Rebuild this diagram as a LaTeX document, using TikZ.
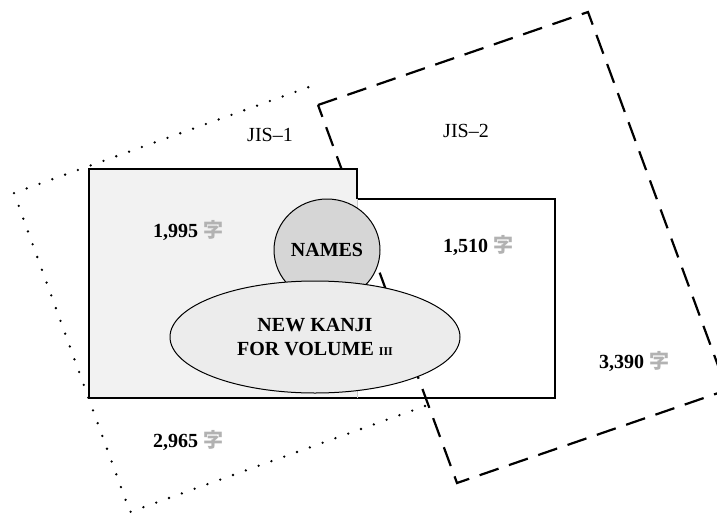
\documentclass[tikz,border=0pt]{standalone}
\usepackage{fontspec}
\setmainfont{Liberation Serif}
\newfontfamily\cjk{Noto Sans CJK JP}
\usetikzlibrary{shapes.geometric}
\newcommand{\zi}{{\cjk\color{gray!60}字}}

\begin{document}
\begin{tikzpicture}[x=0.5pt, y=-0.5pt,
    dotline/.style={line width=1.3pt, line cap=round, dash pattern=on 0pt off 6.8pt},
    dashline/.style={line width=1.1pt, dash pattern=on 10pt off 5.5pt},
    setlabel/.style={font=\normalsize},
    count/.style={font=\bfseries},
    blob/.style={draw, ellipse, line width=0.5pt, font=\bfseries, align=center}]
    \useasboundingbox (0,0) rectangle (717,514);

    % JIS-1 (dotted, tilted)
    \draw[dotline] (425,406) -- (130,512) -- (14,193) -- (309,87);

    % JIS-2 (dashed, tilted)
    \draw[dashline] (318,105) -- (588,12) -- (727,390) -- (457,483) -- cycle;

    % Second block (open)
    \draw[line width=1.1pt] (357,199) -- (555,199) -- (555,398) -- (357,398);

    % First block (shaded)
    \fill[gray!10] (89,169) rectangle (357,398);
    \draw[line width=1.1pt] (357,199) -- (357,169) -- (89,169) -- (89,398) -- (357,398);
    \draw[gray!40, line width=0.4pt] (357,199) -- (357,398);

    % Names and new kanji
    \node[blob, inner sep=0pt, fill=gray!32, minimum width=53pt, minimum height=51pt] (names) at (327,250) {NAMES};
    \node[blob, fill=gray!15, minimum width=145pt, minimum height=56pt] (newkanji) at (315,337)
        {NEW KANJI\\FOR VOLUME {\fontsize{6}{7}\selectfont III}};

    % Labels
    \node[setlabel] (jisone) at (270,135) {JIS–1};
    \node[setlabel] (jistwo) at (466,131) {JIS–2};
    \node[count] (first) at (188,231) {1,995 \zi};
    \node[count] (second) at (478,246) {1,510 \zi};
    \node[count] (third) at (634,362) {3,390 \zi};
    \node[count] (fourth) at (188,441) {2,965 \zi};

\end{tikzpicture}
\end{document}
